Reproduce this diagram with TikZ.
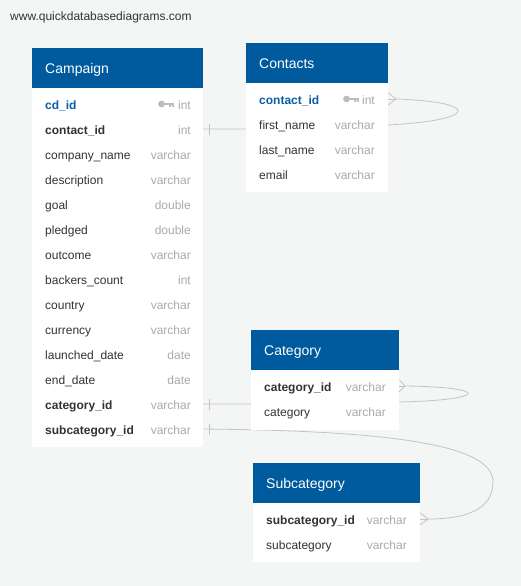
\documentclass[tikz,border=0pt]{standalone}
\usepackage{fontspec}
\setmainfont{Liberation Sans}
\definecolor{hdr}{HTML}{005A9E}
\definecolor{bg}{HTML}{F4F5F5}
\definecolor{fieldc}{HTML}{333333}
\definecolor{pkc}{HTML}{0A5EA6}
\definecolor{typec}{HTML}{AAAAAA}
\definecolor{keyc}{HTML}{BDBDBD}
\definecolor{linec}{HTML}{C4C4C4}
\definecolor{wmc}{HTML}{333333}
\begin{document}
\begin{tikzpicture}[x=1pt,y=-1pt,
  hdrbox/.style={fill=hdr, draw=none, inner sep=0, anchor=north west},
  bodybox/.style={fill=white, draw=none, inner sep=0, anchor=north west},
  title/.style={anchor=base west, inner sep=0, yshift=-0.8pt, text=white, font=\fontsize{14}{16}\selectfont},
  fname/.style={anchor=base west, inner sep=0, yshift=-0.8pt, text=fieldc, font=\fontsize{12}{14}\selectfont},
  fkey/.style={anchor=base west, inner sep=0, yshift=-0.8pt, text=fieldc, font=\fontsize{12}{14}\selectfont\bfseries},
  pkey/.style={anchor=base west, inner sep=0, yshift=-0.8pt, text=pkc, font=\fontsize{12}{14}\selectfont\bfseries},
  ftype/.style={anchor=base east, inner sep=0, yshift=-0.8pt, text=typec, font=\fontsize{12}{14}\selectfont},
  link/.style={draw=linec, line width=0.8pt},
  keyicon/.style={fill=keyc, draw=none},
]
\useasboundingbox[fill=bg] (0,0) rectangle (521,586);

\node[anchor=base west, inner sep=0, text=wmc, font=\fontsize{12}{14}\selectfont] (wm) at (10,20.5) {www.quickdatabasediagrams.com};

% connector end points
\coordinate (c1s) at (203,129);
\coordinate (c1m) at (246,129);
\coordinate (c1x) at (388,125);
\coordinate (c1e) at (396,99);
\coordinate (c2s) at (203,404);
\coordinate (c2m) at (251,404);
\coordinate (c2x) at (399,402);
\coordinate (c2e) at (405,386);
\coordinate (c3s) at (203,429);
\coordinate (c3m) at (240,429.5);
\coordinate (c3p) at (493,482);
\coordinate (c3e) at (428,519);

% connectors (behind tables)
\draw[link] (c1s) -- (c1m) -- (c1x) .. controls (480,120) and (480,102) .. (c1e);
\draw[link] (c2s) -- (c2m) -- (c2x) .. controls (490,400) and (490,387) .. (c2e);
\draw[link] (c3s) -- (c3m) .. controls (420,433) and (493,450) .. (c3p) .. controls (493,510) and (465,519) .. (c3e);

% ---------------- Campaign
\node[bodybox, minimum width=171pt, minimum height=359pt] (campaign) at (32,88) {};
\node[hdrbox, minimum width=171pt, minimum height=40pt] (campaignh) at (32,48) {};
\node[title] (campaignt) at (45,73) {Campaign};
\node[pkey] (cmp1) at (45,108.5) {cd\_id};
\node[ftype] (cmp1t) at (191,108.5) {int};
\node[fkey] (cmp2) at (45,133.5) {contact\_id};
\node[ftype] (cmp2t) at (191,133.5) {int};
\node[fname] (cmp3) at (45,158.5) {company\_name};
\node[ftype] (cmp3t) at (191,158.5) {varchar};
\node[fname] (cmp4) at (45,183.5) {description};
\node[ftype] (cmp4t) at (191,183.5) {varchar};
\node[fname] (cmp5) at (45,208.5) {goal};
\node[ftype] (cmp5t) at (191,208.5) {double};
\node[fname] (cmp6) at (45,233.5) {pledged};
\node[ftype] (cmp6t) at (191,233.5) {double};
\node[fname] (cmp7) at (45,258.5) {outcome};
\node[ftype] (cmp7t) at (191,258.5) {varchar};
\node[fname] (cmp8) at (45,283.5) {backers\_count};
\node[ftype] (cmp8t) at (191,283.5) {int};
\node[fname] (cmp9) at (45,308.5) {country};
\node[ftype] (cmp9t) at (191,308.5) {varchar};
\node[fname] (cmp10) at (45,333.5) {currency};
\node[ftype] (cmp10t) at (191,333.5) {varchar};
\node[fname] (cmp11) at (45,358.5) {launched\_date};
\node[ftype] (cmp11t) at (191,358.5) {date};
\node[fname] (cmp12) at (45,383.5) {end\_date};
\node[ftype] (cmp12t) at (191,383.5) {date};
\node[fkey] (cmp13) at (45,408.5) {category\_id};
\node[ftype] (cmp13t) at (191,408.5) {varchar};
\node[fkey] (cmp14) at (45,433.5) {subcategory\_id};
\node[ftype] (cmp14t) at (191,433.5) {varchar};
% key icon
\fill[keyicon] (161.5,104) circle (3.4);
\fill[keyicon] (164,102.7) rectangle (173.5,105.3);
\fill[keyicon] (169,105.3) rectangle (170.6,107.3);
\fill[keyicon] (171.8,105.3) rectangle (173.5,106.7);

% ---------------- Contacts
\node[bodybox, minimum width=142pt, minimum height=109pt] (contacts) at (246,83) {};
\node[hdrbox, minimum width=142pt, minimum height=40pt] (contactsh) at (246,43) {};
\node[title] (contactst) at (259,68) {Contacts};
\node[pkey] (con1) at (259,103.5) {contact\_id};
\node[ftype] (con1t) at (375,103.5) {int};
\node[fname] (con2) at (259,128.5) {first\_name};
\node[ftype] (con2t) at (375,128.5) {varchar};
\node[fname] (con3) at (259,153.5) {last\_name};
\node[ftype] (con3t) at (375,153.5) {varchar};
\node[fname] (con4) at (259,178.5) {email};
\node[ftype] (con4t) at (375,178.5) {varchar};
\fill[keyicon] (346.5,99) circle (3.4);
\fill[keyicon] (349,97.7) rectangle (358.5,100.3);
\fill[keyicon] (354,100.3) rectangle (355.6,102.3);
\fill[keyicon] (356.8,100.3) rectangle (358.5,101.7);

% ---------------- Category
\node[bodybox, minimum width=148pt, minimum height=60pt] (category) at (251,370) {};
\node[hdrbox, minimum width=148pt, minimum height=40pt] (categoryh) at (251,330) {};
\node[title] (categoryt) at (264,355) {Category};
\node[fkey] (cat1) at (264,390.5) {category\_id};
\node[ftype] (cat1t) at (386,390.5) {varchar};
\node[fname] (cat2) at (264,415.5) {category};
\node[ftype] (cat2t) at (386,415.5) {varchar};

% ---------------- Subcategory
\node[bodybox, minimum width=167pt, minimum height=59pt] (subcategory) at (253,503) {};
\node[hdrbox, minimum width=167pt, minimum height=40pt] (subcategoryh) at (253,463) {};
\node[title] (subcategoryt) at (266,488) {Subcategory};
\node[fkey] (sub1) at (266,523.5) {subcategory\_id};
\node[ftype] (sub1t) at (407,523.5) {varchar};
\node[fname] (sub2) at (266,548.5) {subcategory};
\node[ftype] (sub2t) at (407,548.5) {varchar};

% ---------------- connector ends
\draw[link] ([xshift=6pt]c1s) ++(0,-5.5) -- ++(0,11);
\draw[link] ([xshift=6pt]c2s) ++(0,-5.5) -- ++(0,11);
\draw[link] ([xshift=6pt]c3s) ++(0,-5.5) -- ++(0,11);
\draw[link] (contacts.east |- c1e) ++(0,-6) -- (c1e) -- ++(-8,6);
\draw[link] (contacts.east |- c1e) -- (c1e);
\draw[link] (category.east |- c2e) ++(0,-6) -- (c2e) -- ++(-6,6);
\draw[link] (category.east |- c2e) -- (c2e);
\draw[link] (subcategory.east |- c3e) ++(0,-6) -- (c3e) -- ++(-8,6);
\draw[link] (subcategory.east |- c3e) -- (c3e);
\end{tikzpicture}
\end{document}
